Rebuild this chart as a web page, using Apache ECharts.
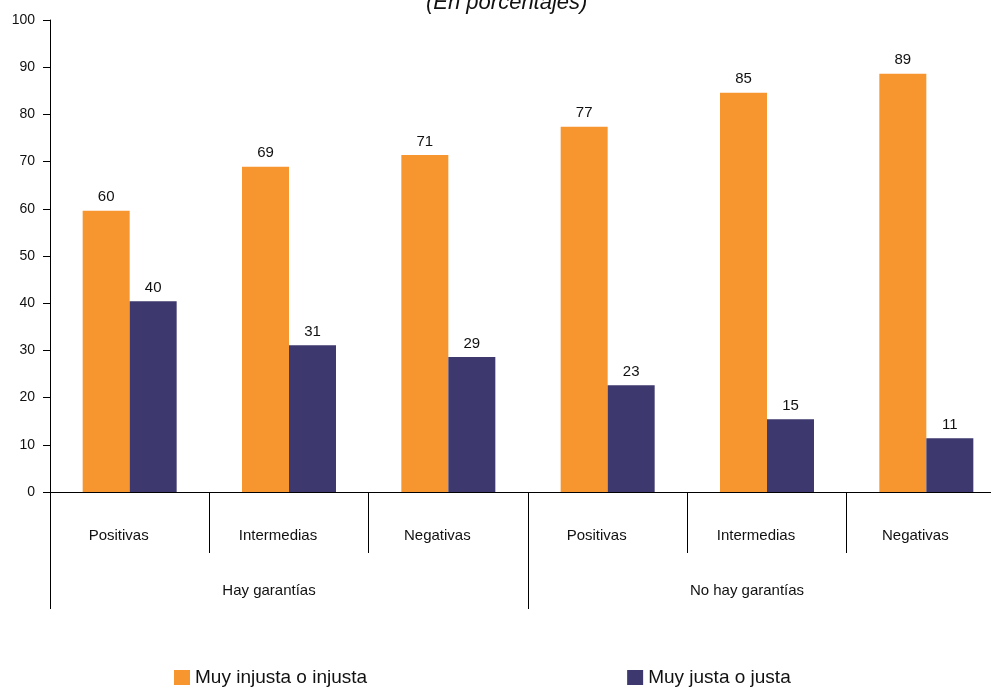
<!DOCTYPE html>
<html>
<head>
<meta charset="utf-8">
<script src="https://cdn.jsdelivr.net/npm/echarts@6/dist/echarts.min.js"></script>
<style>
html,body{margin:0;padding:0;background:#fff;overflow:hidden;}
#chart{width:1006px;height:688px;}
</style>
</head>
<body>
<div id="chart"></div>
<script>
const categories = ['Positivas', 'Intermedias', 'Negativas', 'Positivas', 'Intermedias', 'Negativas'];
const groups = ['Hay garantías', 'No hay garantías'];
const seriesNames = ['Muy injusta o injusta', 'Muy justa o justa'];
const injusta = [59.6, 68.9, 71.4, 77.4, 84.6, 88.6];
const justa = [40.4, 31.1, 28.6, 22.6, 15.4, 11.4];
const yTicks = { min: 0, max: 100, interval: 10 };
const titleText = '(En porcentajes)';

const FONT = "'Liberation Sans', Arial, sans-serif";
const chart = echarts.init(document.getElementById('chart'), null, { renderer: 'canvas' });

const labelCfg = {
  show: true,
  position: 'top',
  distance: 6,
  fontFamily: FONT,
  fontSize: 15,
  color: '#111',
  formatter: p => Math.round(p.value)
};

chart.setOption({
  animation: false,
  backgroundColor: '#fff',
  title: {
    text: titleText,
    left: 421,
    top: -13,
    textStyle: { fontFamily: FONT, fontSize: 22, fontStyle: 'italic', fontWeight: 'normal', color: '#111' }
  },
  legend: {
    left: 174,
    top: 668,
    padding: 0,
    itemWidth: 16,
    itemHeight: 15,
    itemGap: 260,
    icon: 'rect',
    textStyle: { fontFamily: FONT, fontSize: 19, color: '#111' },
    data: seriesNames
  },
  grid: { left: 50, right: 0, top: 20, bottom: 196, containLabel: false },
  xAxis: [
    {
      type: 'category',
      data: categories,
      position: 'bottom',
      axisLine: { show: true, lineStyle: { color: '#000', width: 1 } },
      axisTick: { show: true, length: 61, interval: 0, lineStyle: { color: '#000', width: 1 } },
      axisLabel: { interval: 0, margin: 36, fontFamily: FONT, fontSize: 15, color: '#111', padding: [0, 22, 0, 0] }
    },
    {
      type: 'category',
      data: groups,
      position: 'bottom',
      axisLine: { show: false },
      axisTick: { show: true, length: 117, interval: 0, lineStyle: { color: '#000', width: 1 } },
      axisLabel: { interval: 0, margin: 91, fontFamily: FONT, fontSize: 15, color: '#111', padding: [0, 40, 0, 0] },
      splitLine: { show: false }
    }
  ],
  yAxis: {
    type: 'value',
    min: yTicks.min,
    max: yTicks.max,
    interval: yTicks.interval,
    axisLine: { show: true, lineStyle: { color: '#000', width: 1 } },
    axisTick: { show: true, length: 7, inside: false, lineStyle: { color: '#000' } },
    axisLabel: { margin: 15, fontFamily: FONT, fontSize: 14, color: '#111' },
    splitLine: { show: false }
  },
  series: [
    {
      name: seriesNames[0],
      type: 'bar',
      xAxisIndex: 0,
      data: injusta,
      barWidth: 47,
      barGap: '0%',
      itemStyle: { color: '#F7952F' },
      label: labelCfg
    },
    {
      name: seriesNames[1],
      type: 'bar',
      xAxisIndex: 0,
      data: justa,
      barWidth: 47,
      barGap: '0%',
      itemStyle: { color: '#3D386E' },
      label: labelCfg
    }
  ]
});
</script>
</body>
</html>
